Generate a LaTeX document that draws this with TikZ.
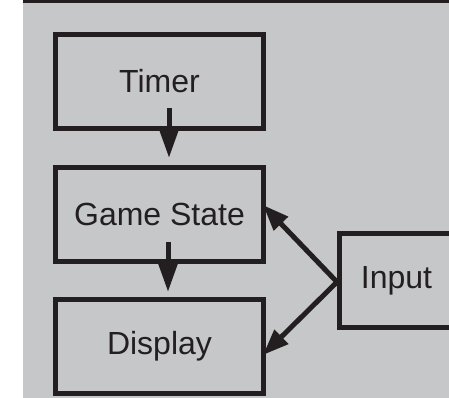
\documentclass[tikz,border=0pt]{standalone}
\usepackage{fontspec}
\setmainfont{Liberation Sans}
\usetikzlibrary{arrows.meta}
\definecolor{bggray}{HTML}{C6C7C9}
\definecolor{ink}{HTML}{231F20}
\begin{document}
\begin{tikzpicture}[x=1pt,y=-1pt,
  box/.style={draw=ink, line width=5pt, minimum width=208pt, minimum height=94pt,
    inner sep=0pt, text=ink, font=\fontsize{32}{36}\selectfont},
  conn/.style={draw=ink, line width=5pt, -{Triangle[length=28pt,width=18pt]}},
  diag/.style={draw=ink, line width=5pt, -{Triangle[length=26pt,width=19pt]}}]
\useasboundingbox (0,0) rectangle (449,398);
\begin{scope}
\clip (0,0) rectangle (449,398);
\fill[bggray] (22.5,0) rectangle (449,398);
\fill[ink] (22.5,0) rectangle (449,3.3);
\node[box] (timer) at (159.5,81.5) {Timer};
\node[box] (gs) at (159.5,214.5) {Game State};
\node[box] (disp) at (159.5,346.5) {Display};
\node[box, minimum width=114pt] (input) at (396.5,280.5) {Input};
\draw[conn] ([shift={(9.5,-23)}]timer.south) -- ([shift={(9.5,-7)}]gs.north);
\draw[conn] ([shift={(8.5,-22)}]gs.south) -- ([shift={(8.5,-5)}]disp.north);
\draw[diag] ([shift={(0,1.5)}]input.west) -- ([shift={(-3,-9.5)}]gs.east);
\draw[diag] ([shift={(0,1.5)}]input.west) -- ([shift={(-3,8.5)}]disp.east);
\end{scope}
\end{tikzpicture}
\end{document}
